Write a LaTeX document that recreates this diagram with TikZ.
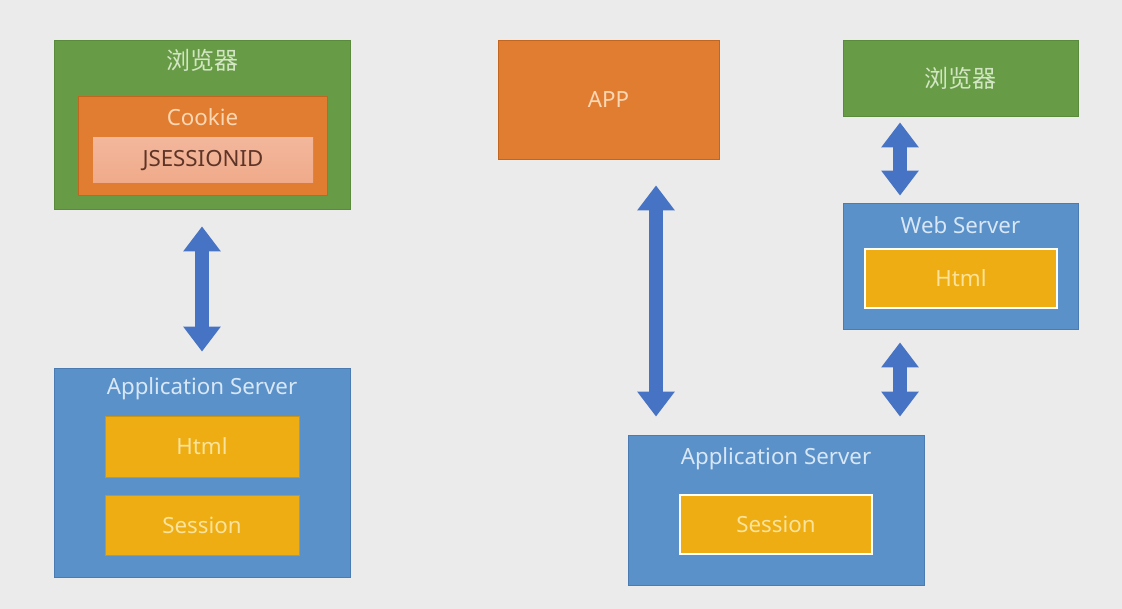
\documentclass[tikz,border=0pt]{standalone}
\usepackage{fontspec}
\setmainfont{Noto Sans}
\newfontfamily\cjk{Noto Sans CJK SC}
\usetikzlibrary{arrows.meta}
\definecolor{bg}{HTML}{EBEBEB}
\definecolor{grn}{HTML}{689B46}
\definecolor{grnb}{HTML}{5A8A3C}
\definecolor{grnt}{HTML}{D2E6C4}
\definecolor{org}{HTML}{E17D31}
\definecolor{orgb}{HTML}{C2661F}
\definecolor{orgt}{HTML}{FCD7B4}
\definecolor{blu}{HTML}{5B91C9}
\definecolor{blub}{HTML}{4A7BB2}
\definecolor{blut}{HTML}{D8E7F6}
\definecolor{yel}{HTML}{EEAD12}
\definecolor{yelb}{HTML}{CC9512}
\definecolor{yelt}{HTML}{FBE39C}
\definecolor{jsf}{HTML}{F0AA8A}
\definecolor{jst}{HTML}{5E3427}
\definecolor{arr}{HTML}{4673C4}
\tikzset{
  box/.style={rectangle, inner sep=0pt, line width=0.8pt},
  greenbox/.style={box, fill=grn, draw=grnb},
  orangebox/.style={box, fill=org, draw=orgb},
  bluebox/.style={box, fill=blu, draw=blub},
  lbl/.style={font=\fontsize{22.3}{25}\selectfont},
  yellowbox/.style={box, fill=yel, draw=yelb, text=yelt, lbl},
  yellowwhite/.style={box, fill=yel, draw=white, line width=2pt, text=yelt, lbl},
  title/.style={inner sep=0pt, lbl},
  cjktitle/.style={inner sep=0pt, font=\cjk\fontsize{24}{27}\selectfont, text=grnt},
  bigarrow/.style={draw=arr, line width=14pt, {Triangle[width=36pt,length=25pt]}-{Triangle[width=36pt,length=25pt]}}
}
\begin{document}
\begin{tikzpicture}[x=1pt,y=-1pt]
\fill[bg] (0,0) rectangle (1122,609);
\useasboundingbox (0,0) rectangle (1122,609);

% ---- left diagram ----
\node[greenbox, minimum width=296pt, minimum height=169pt] (b1) at (202,124.5) {};
\node[cjktitle] (b1t) at (202,60) {浏览器};
\node[orangebox, minimum width=249pt, minimum height=99pt] (ck) at (202.5,145.5) {};
\node[title, text=orgt] (ckt) at (202.5,117) {Cookie};
\node[box, draw=none, top color=jsf!85!white, bottom color=jsf, minimum width=220pt, minimum height=45pt, text=jst, lbl] (js) at (203,160.5) {JSESSIONID};

\node[bluebox, minimum width=296pt, minimum height=209pt] (as1) at (202,472.5) {};
\node[title, text=blut] (as1t) at (202,389) {Application Server};
\node[yellowbox, minimum width=194pt, minimum height=61pt] (h1) at (202,446.5) {Html};
\node[yellowbox, minimum width=194pt, minimum height=60pt] (s1) at (202,525) {Session};

\draw[bigarrow, shorten <=17pt, shorten >=16pt] (b1.south) -- (as1.north);

% ---- right diagram ----
\node[orangebox, minimum width=221pt, minimum height=119pt, text=orgt, lbl] (app) at (608.5,99.5) {APP};
\node[greenbox, minimum width=235pt, minimum height=76pt] (b2) at (960.5,78) {};
\node[cjktitle] (b2t) at (960.5,78) {浏览器};

\node[bluebox, minimum width=235pt, minimum height=126pt] (ws) at (960.5,266) {};
\node[title, text=blut] (wst) at (960.5,225) {Web Server};
\node[yellowwhite, minimum width=192pt, minimum height=59pt] (h2) at (961,278.5) {Html};

\node[bluebox, minimum width=296pt, minimum height=150pt] (as2) at (776,510) {};
\node[title, text=blut] (as2t) at (776,459) {Application Server};
\node[yellowwhite, minimum width=192pt, minimum height=59pt] (s2) at (776,524.5) {Session};

\draw[bigarrow, shorten <=26pt, shorten >=18pt] ([xshift=47.5pt]app.south) -- ([xshift=47.5pt]app.south |- as2.north);
\draw[bigarrow, shorten <=6pt, shorten >=7pt] ([xshift=-60.5pt]b2.south) -- ([xshift=-60.5pt]ws.north);
\draw[bigarrow, shorten <=13pt, shorten >=18pt] ([xshift=-60.5pt]ws.south) -- ([xshift=-60.5pt]ws.south |- as2.north);
\end{tikzpicture}
\end{document}
